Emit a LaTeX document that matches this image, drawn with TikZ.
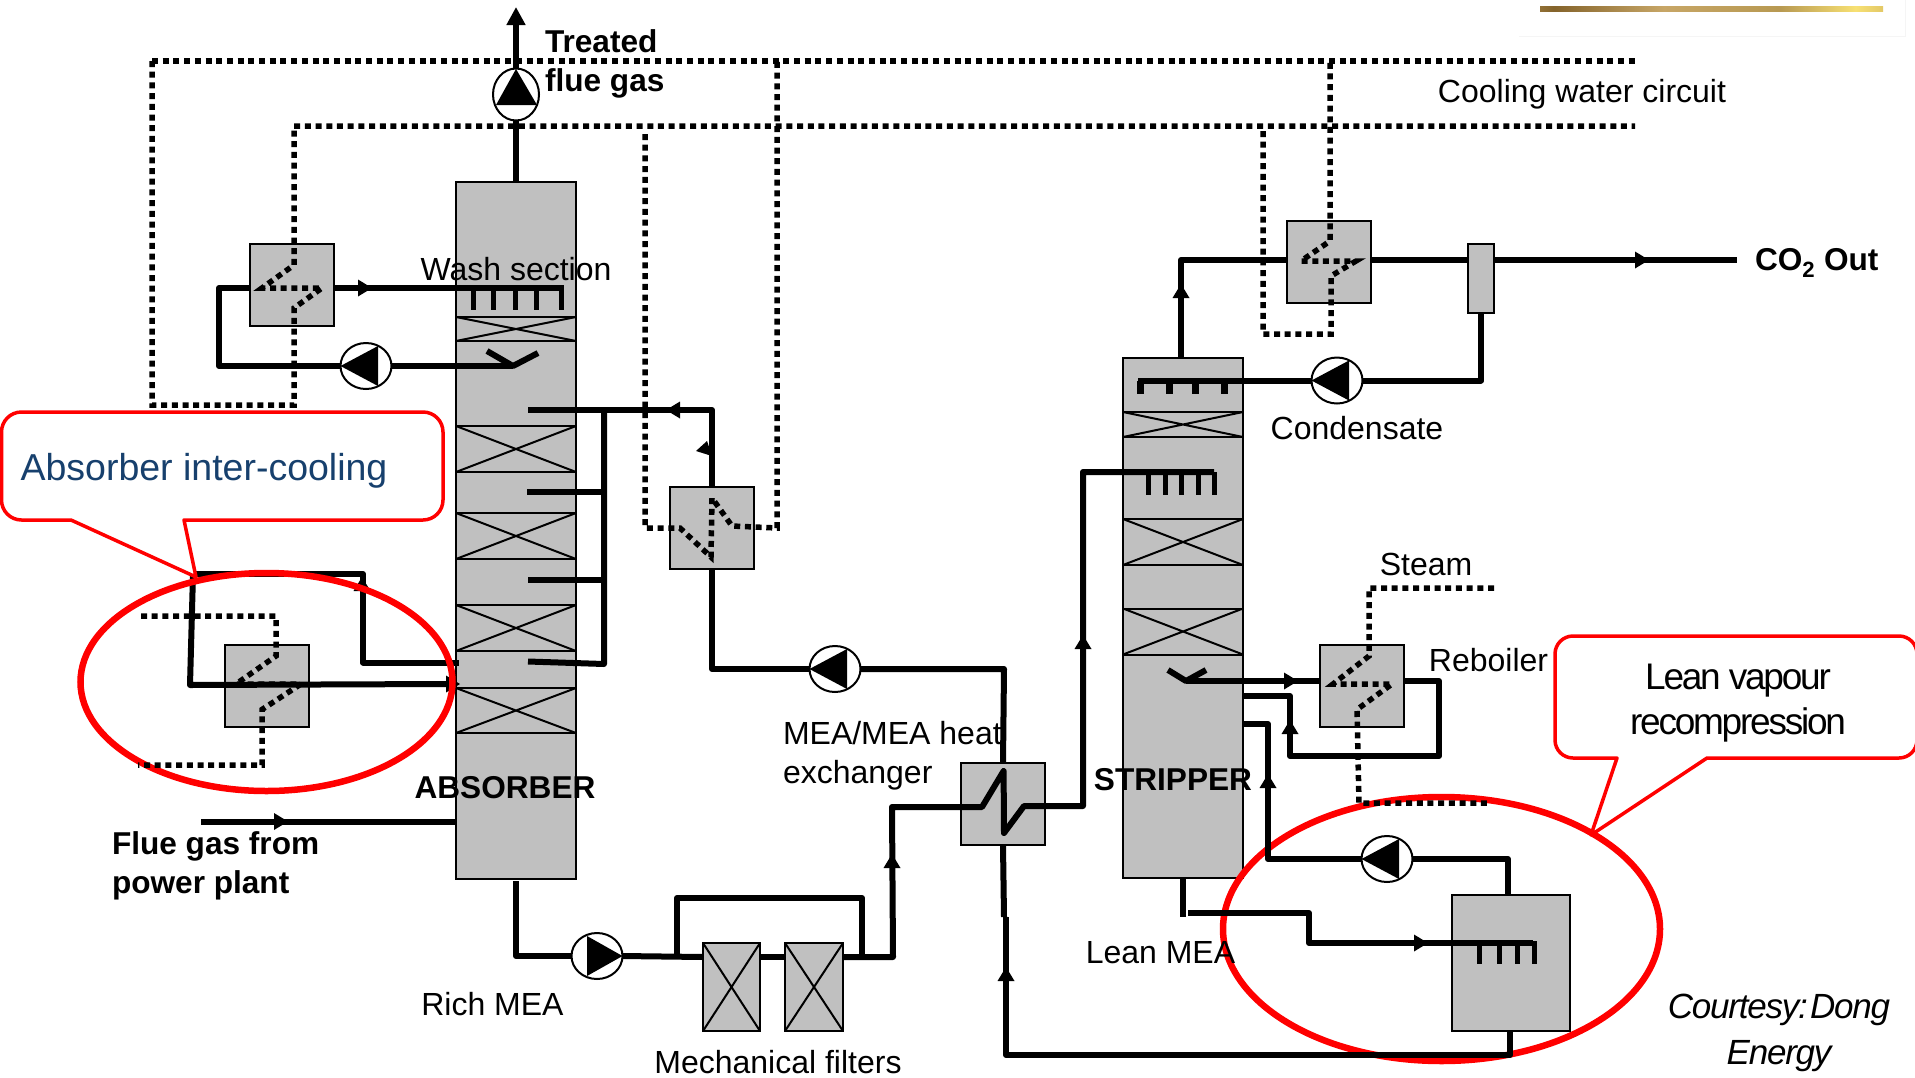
\documentclass[tikz,border=0pt]{standalone}
\usepackage{fontspec}
\setmainfont{Liberation Sans}
\newfontfamily\tightfont[LetterSpace=-6]{Liberation Sans}
\newfontfamily\tightit[LetterSpace=-3.5,ItalicFont={Liberation Sans Italic}]{Liberation Sans}
\usetikzlibrary{shapes.geometric,arrows.meta}
\definecolor{vesselgray}{HTML}{C0C0C0}
\definecolor{navytext}{HTML}{17406D}
\pgfdeclarehorizontalshading{goldbar}{100bp}{
  rgb(0bp)=(0.62,0.54,0.40);
  rgb(6.8bp)=(0.96,0.84,0.42);
  rgb(13.6bp)=(0.85,0.72,0.45);
  rgb(27bp)=(0.52,0.39,0.17);
  rgb(43bp)=(0.78,0.65,0.40);
  rgb(60bp)=(0.72,0.60,0.32);
  rgb(71bp)=(0.97,0.88,0.45);
  rgb(82bp)=(0.75,0.62,0.32);
  rgb(95.6bp)=(0.46,0.35,0.13);
  rgb(100bp)=(0.62,0.56,0.46)}
\tikzset{
  equip/.style={draw=black,fill=vesselgray,line width=2pt,inner sep=0pt,outer sep=0pt,rectangle},
  hxbox/.style={equip,minimum width=84pt,minimum height=82pt},
  xbox/.style={equip,path picture={\draw[line width=2pt]
     (path picture bounding box.north west)--(path picture bounding box.south east)
     (path picture bounding box.south west)--(path picture bounding box.north east);}},
  pumpbody/.style={draw=black,fill=white,line width=2pt,ellipse,inner sep=0pt,outer sep=0pt,minimum width=51pt,minimum height=46pt},
  pipe/.style={draw=black,line width=6pt,line join=round},
  cw/.style={draw=black,line width=5.5pt,dash pattern=on 6pt off 4.7pt},
  tooth/.style={draw=black,line width=5pt},
  lbl/.style={inner sep=0pt,outer sep=0pt,font=\fontsize{32}{39}\selectfont},
  blbl/.style={inner sep=0pt,outer sep=0pt,font=\fontsize{31.6}{39}\selectfont\bfseries},
  callout/.style={draw=red,fill=white,line width=3.5pt,line join=round},
  ring/.style={draw=red,line width=6.5pt,ellipse,inner sep=0pt,outer sep=0pt,fill=none}
}
\newcommand{\flowmark}[3]{\fill[black,shift={(#1,#2)},rotate=#3] (-7,-8.5)--(7,0)--(-7,8.5)--cycle;}
\newcommand{\pumpleft}[3]{\node[pumpbody] (#1) at (#2,#3) {};
  \fill[black] (#1.west)--([xshift=12pt,yshift=20pt]#1.center)--([xshift=12pt,yshift=-20pt]#1.center)--cycle;}
\newcommand{\pumpright}[3]{\node[pumpbody] (#1) at (#2,#3) {};
  \fill[black] (#1.east)--([xshift=-10pt,yshift=20pt]#1.center)--([xshift=-10pt,yshift=-20pt]#1.center)--cycle;}
\begin{document}
\begin{tikzpicture}[x=1pt,y=-1pt]
\useasboundingbox (0,0) rectangle (1915,1077);
\fill[white] (0,0) rectangle (1915,1077);

% faint header and gold bar
\draw[gray!8,line width=1pt] (1519,36)--(1905,36)--(1905,0);
\shade[shading=goldbar] (1540,6) rectangle (1883,11);

% vessels
\node[equip,minimum width=120pt,minimum height=697pt] (absorber) at (516,530.5) {};
\node[equip,minimum width=120pt,minimum height=520pt] (stripper) at (1183,618) {};
\foreach \n/\y/\h in {a1/329/24,a2/449/46,a3/536/46,a4/628/46,a5/710.5/45}
  \node[xbox,minimum width=120pt,minimum height=\h pt] (\n) at (516,\y) {};
\foreach \n/\y/\h in {s1/424.5/25,s2/542/46,s3/631.5/46}
  \node[xbox,minimum width=120pt,minimum height=\h pt] (\n) at (1183,\y) {};
\node[hxbox] (hxA) at (292,285) {};
\node[hxbox] (hxB) at (712,528) {};
\node[hxbox] (hxC) at (267,686) {};
\node[hxbox] (hxD) at (1003,804) {};
\node[hxbox] (hxE) at (1329,262) {};
\node[hxbox] (hxF) at (1362,686) {};
\node[equip,minimum width=26pt,minimum height=69pt] (sep) at (1481,278.5) {};
\node[equip,minimum width=118pt,minimum height=136pt] (flash) at (1511,963) {};
\node[xbox,minimum width=57pt,minimum height=88pt] (filterA) at (731.5,987) {};
\node[xbox,minimum width=58pt,minimum height=88pt] (filterB) at (814,987) {};

% named ends of the pipes
\coordinate (cwTopEnd) at (1635,61);
\coordinate (cwLowEnd) at (1635,126);
\coordinate (stackTop) at (516,7);
\coordinate (washL) at (250,288);
\coordinate (washR) at (334,288);
\coordinate (washEnd) at (564,288);
\coordinate (feedTop) at (528,410);
\coordinate (feedB) at (527,492);
\coordinate (feedC) at (528,580);
\coordinate (feedD) at (528,661.5);
\coordinate (icOut) at (459,662.5);
\coordinate (icBack) at (446,684);
\coordinate (flueStart) at (201,821.5);
\coordinate (flueEnd) at (456,821.5);
\coordinate (richStart) at (516,881);
\coordinate (leanDown) at (1183,917);
\coordinate (leanStart) at (1188,913);
\coordinate (flashOutTop) at (1508,895);
\coordinate (flashOutBot) at (1510,1031);
\coordinate (distB) at (1214,472);
\coordinate (distA) at (1138,380.5);
\coordinate (stripTop) at (1181,358);
\coordinate (co2End) at (1737,260);
\coordinate (hxEin) at (1287,260);
\coordinate (hxEout) at (1371,260);
\coordinate (sepIn) at (1468,260);
\coordinate (sepOut) at (1494,260);
\coordinate (rebIn) at (1186,681);
\coordinate (rebL) at (1320,681);
\coordinate (rebR) at (1404,681);
\coordinate (rebRet) at (1243,696);
\coordinate (lvpIn) at (1244,724);
\coordinate (filtAin) at (703,957);
\coordinate (filtAout) at (760,957);
\coordinate (filtBin) at (785,957);
\coordinate (filtBout) at (843,957);

% lean vapour callout and its ring lie under the pipes
\draw[callout] (1707,758)[rounded corners=18pt]--(1917,758)--(1917,636)--(1555,636)--(1555,758)[sharp corners]--(1617,758)--(1591,835)--cycle;
\node[ring,minimum width=437pt,minimum height=264pt] (ringB) at (1441.5,929) {};

% absorber side
\draw[pipe] (absorber.north)--(516,120);
\draw[pipe,-{Triangle[length=18pt,width=18pt]}] (516,68)--(stackTop);
\draw[pipe] (washL)--(219,288)--(219,366)--(341,366);
\draw[pipe] (washR)--(washEnd);
\flowmark{365}{288}{0}
\foreach \x in {473,493,515,536,561} \draw[tooth] (\x,288)--(\x,310);
\draw[pipe] (390,366)--(513,366);
\draw[pipe] (487,351)--(513,366)--(538,353);
\draw[pipe] (feedTop)--(712,410)--(hxB.north);
\draw[pipe] (604,410)--(604,664)--(feedD);
\draw[pipe] (feedB)--(604,492);
\draw[pipe] (feedC)--(604,580);
\flowmark{673}{410}{180}
\fill[black] (707,441)--(696,451)--(712,456)--cycle;
\draw[pipe] (hxB.south)--(712,669)--(810,669);
\draw[pipe] (860,669)--(1004,669)--(hxD.north);
\draw[pipe] (196,574)--(363,574)--(363,662.5)--(icOut);
\draw[pipe] (193,574)--(190,685)--(icBack);
\flowmark{453}{684}{0}
\flowmark{362}{584}{90}
\draw[pipe] (flueStart)--(flueEnd);
\flowmark{281}{821.5}{0}
\draw[pipe] (richStart)--(516,956)--(572,956);
\draw[pipe] (622,956)--(filtAin);
\draw[pipe] (677,956)--(677,898)--(862,898)--(862,957);
\draw[pipe] (filtAout)--(filtBin);
\draw[pipe] (filtBout)--(893,957)--(892,807)--(982,807)--(1003.6,771)--(1004,833)--(1024,806)--(1083,806)--(1083,472)--(distB);
\foreach \x in {1148,1165,1181,1198,1214} \draw[tooth] (\x,472)--(\x,495);
\flowmark{892}{861}{90}
\flowmark{1083}{642}{90}

% stripper side
\draw[pipe] (stripTop)--(1181,260)--(hxEin);
\flowmark{1181}{291}{90}
\draw[pipe] (hxEout)--(sepIn);
\draw[pipe] (sepOut)--(co2End);
\flowmark{1642}{260}{0}
\draw[pipe] (sep.south)--(1481,380.5)--(1362,380.5);
\draw[pipe] (1312,380.5)--(distA);
\foreach \x in {1140,1169,1195,1224} \draw[line width=7pt] (\x,380.5)--(\x,394);
\draw[pipe] (rebIn)--(rebL);
\flowmark{1291}{681}{0}
\draw[pipe] (1168,670)--(rebIn)--(1206,670);
\draw[pipe] (rebR)--(1439,681)--(1439,756)--(1290,756)--(1290,696)--(rebRet);
\flowmark{1290}{727}{90}
\draw[pipe] (lvpIn)--(1268,724)--(1268,859)--(1363,859);
\flowmark{1268}{781}{90}
\draw[pipe] (1411,859)--(1508,859)--(flashOutTop);
\draw[pipe] (stripper.south)--(leanDown);
\draw[pipe] (leanStart)--(1309,913)--(1309,943)--(1533,943);
\flowmark{1421}{943}{0}
\foreach \x in {1479,1499,1517,1534} \draw[tooth] (\x,941)--(\x,964);
\draw[pipe] (flashOutBot)--(1510,1055)--(1006,1055)--(1006,917);
\draw[pipe] (1004,917)--(hxD.south);
\flowmark{1006}{974}{90}

% pumps
\node[pumpbody,minimum width=46pt,minimum height=52pt] (fan) at (516,94.5) {};
\fill[black] (516,69)--(537,105)--(496,105)--cycle;
\pumpleft{pumpA}{366}{366}
\pumpright{pumpB}{597}{956}
\pumpleft{pumpC}{835}{669}
\pumpleft{pumpD}{1337}{380.5}
\pumpleft{pumpE}{1387}{859}

% labels
\node[blbl,anchor=west,align=left] (tfg) at (545,64) {Treated\\flue gas};
\node[lbl,anchor=center] (cwc) at (1582,94.5) {Cooling water circuit};
\node[lbl] (wash) at (516,269) {Wash section};
\node[blbl] (absname) at (505,788) {ABSORBER};
\node[blbl,anchor=west,align=left] (fgp) at (112,866) {Flue gas from\\power plant};
\node[lbl] (rich) at (492.5,1004) {Rich MEA};
\node[lbl] (mech) at (778,1062) {Mechanical filters};
\node[lbl,anchor=west,align=left] (mea) at (783,756) {MEA/MEA heat\\exchanger};
\node[blbl] (strname) at (1173,780) {STRIPPER};
\node[lbl] (lean) at (1160.5,953) {Lean MEA};
\node[lbl] (steam) at (1426,564) {Steam};
\node[lbl] (reb) at (1488.5,660) {Reboiler};
\node[lbl] (cond) at (1357,428) {Condensate};
\node[blbl,anchor=west] (co2) at (1755,263) {CO\textsubscript{2} Out};

% absorber inter-cooling callout
\draw[callout] (71,520)[rounded corners=20pt]--(1.5,520)--(1.5,412)--(443,412)--(443,520)[sharp corners]--(184,520)--(196,577)--cycle;
\node[inner sep=0pt,outer sep=0pt,text=navytext,font=\fontsize{37.5}{40}\selectfont] (absic) at (204,471) {Absorber inter-cooling};
\node[inner sep=0pt,outer sep=0pt,align=center,font=\fontsize{37}{45}\selectfont\tightfont] (lvr) at (1738,703.5) {Lean vapour\\recompression};
\node[inner sep=0pt,outer sep=0pt,align=center,font=\fontsize{35}{46}\selectfont\tightit\itshape] (court) at (1779,1033) {Courtesy:\hspace{-9pt} Dong\\Energy};

% inter-cooling ring
\node[ring,minimum width=372pt,minimum height=218pt] (ringA) at (266.5,682) {};

% cooling water and steam
\draw[cw] (152,61)--(152,405)--(294,405)--(294,308)--(322,288)--(262,288)--(294,265)--(294,126)--(cwLowEnd);
\draw[cw] (152,61)--(cwTopEnd);
\draw[cw] (645,134)--(645,528)--(680,528)--(711,557)--(712,498)--(732,526)--(777,528)--(777,61);
\draw[cw] (1263,131)--(1263,334)--(1331,334)--(1331,276)--(1356,261)--(1301,261)--(1330,241)--(1330,61);
\draw[cw] (141,616)--(276,616)--(276,656)--(236,684)--(301,684)--(262,709.5)--(262,765)--(138,765);
\draw[cw] (1494,588)--(1369,588)--(1369,656)--(1333,684)--(1392,684)--(1357,709.5)--(1359,803)--(1487,803);
\end{tikzpicture}
\end{document}
